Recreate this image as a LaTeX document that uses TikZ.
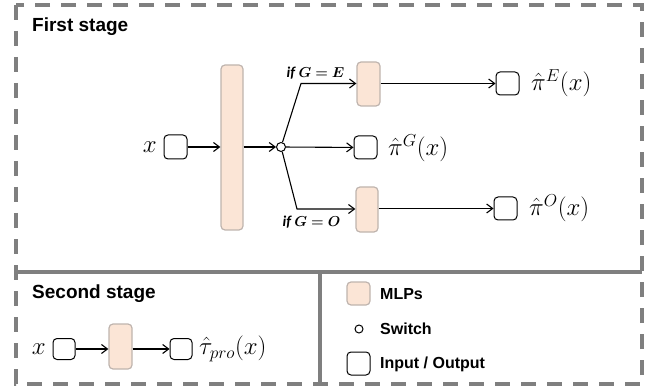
\documentclass[tikz,border=0pt]{standalone}
\usepackage{fontspec}
\setmainfont{Liberation Sans}
\newfontfamily\iffont{Carlito}
\usepackage{amsmath,bm}
\usetikzlibrary{arrows.meta}
\definecolor{peach}{HTML}{FBE5D6}
\definecolor{peachline}{HTML}{BFB4AE}
\definecolor{frame}{HTML}{7F7F7F}
\tikzset{
  io/.style={draw=black, rounded corners=4pt, line width=1pt, minimum width=23pt, minimum height=23pt, inner sep=0pt},
  mlp/.style={draw=peachline, fill=peach, rounded corners=4pt, line width=1.2pt, inner sep=0pt},
  sw/.style={circle, draw=black, fill=white, line width=1pt, minimum size=9pt, inner sep=0pt},
  conn/.style={line width=1.1pt, -{Straight Barb[length=6pt,width=9pt,line width=1.1pt]}},
  frameline/.style={draw=frame, line width=3.2pt},
  dashframe/.style={frameline, dash pattern=on 15pt off 11pt},
  head/.style={font=\fontsize{19}{22}\selectfont\bfseries, anchor=west, inner sep=0pt},
  leg/.style={font=\fontsize{16}{19}\selectfont\bfseries, anchor=west, inner sep=0pt},
  mathlab/.style={font=\fontsize{24}{28}\selectfont, anchor=west, inner sep=0pt},
  iflab/.style={font=\fontsize{15}{18}\selectfont, inner sep=0pt}
}
\begin{document}
\begin{tikzpicture}[x=1pt,y=-1pt]
\useasboundingbox (0,0) rectangle (655,387);
% frame
\draw[dashframe] (16,5) rectangle (642,384);
\draw[frameline] (16,272) -- (642,272);
\draw[frameline] (320,272) -- (320,384);
% headings
\node[head] (h1) at (32,27) {First stage};
\node[head] (h2) at (32,294) {Second stage};
% first stage
\node[mathlab, anchor=east] (xin) at (157,147) {$x$};
\node[io, minimum height=24pt] (in1) at (175.5,147) {};
\node[mlp, minimum width=22pt, minimum height=165pt] (big) at (232,147.5) {};
\node[sw] (s) at (281,147) {};
\draw[conn] (in1) -- (big.west |- in1);
\draw[conn] (big.east |- s) -- (s);
\node[mlp, minimum width=23pt, minimum height=44pt] (mE) at (368.5,84) {};
\node[mlp, minimum width=22pt, minimum height=45pt] (mO) at (367,209.5) {};
\coordinate (bE) at (301,83.5);
\coordinate (bO) at (297,209);
\draw[conn] (s) -- (bE) -- (mE.west |- bE);
\draw[conn] (s) -- (bO) -- (mO.west |- bO);
\node[io] (oG) at (365.5,147.5) {};
\node[io] (oE) at (507.5,83.5) {};
\node[io] (oO) at (505.5,208.5) {};
\draw[conn] (s) -- (oG);
\draw[conn] (mE.east |- oE) -- (oE);
\draw[conn] (mO.east |- oO) -- (oO);
\node[mathlab] (lE) at (531,83) {$\hat{\pi}^{E}(x)$};
\node[mathlab] (lG) at (388,148) {$\hat{\pi}^{G}(x)$};
\node[mathlab] (lO) at (529,208) {$\hat{\pi}^{O}(x)$};
\node[iflab] (ifE) at (315.5,73) {\iffont\bfseries\itshape if $\bm{G=E}$};
\node[iflab] (ifO) at (311.5,222) {\iffont\bfseries\itshape if $\bm{G=O}$};
% second stage
\node[mathlab, anchor=east] (x2) at (46,349) {$x$};
\node[io, minimum width=22pt, minimum height=21pt] (in2) at (64,349) {};
\node[mlp, minimum width=23pt, minimum height=45pt] (m2) at (120.5,346.5) {};
\node[io, minimum width=22pt, minimum height=21pt] (o2) at (181,349) {};
\draw[conn] (in2) -- (m2.west |- in2);
\draw[conn] (m2.east |- o2) -- (o2);
\node[mathlab] (lt) at (199,349) {$\hat{\tau}_{pro}(x)$};
% legend
\node[mlp, minimum width=23pt, minimum height=23pt] (legm) at (358.5,293.5) {};
\node[sw, minimum size=8pt] (legs) at (359,329) {};
\node[io] (legio) at (358.5,363.5) {};
\node[leg] (t1) at (380,294) {MLPs};
\node[leg] (t2) at (380,329) {Switch};
\node[leg] (t3) at (380,364) {Input / Output};
\end{tikzpicture}
\end{document}
